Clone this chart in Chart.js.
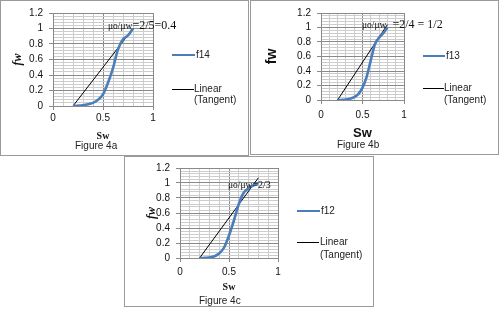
<!DOCTYPE html>
<html><head><meta charset="utf-8">
<script src="https://cdn.jsdelivr.net/npm/chart.js@4"></script>
<style>
html,body{margin:0;padding:0;background:#fff}
body{width:500px;height:309px;position:relative;overflow:hidden;font-family:"Liberation Sans",Arial,sans-serif;color:#222}
canvas{position:absolute}
.box{position:absolute;border:1px solid #9a9a9a;box-sizing:border-box}
.t{position:absolute;white-space:nowrap}
.ln{position:absolute}
</style></head><body>
<script>
// ---------- data ----------
const categoriesSw = [0.2, 0.3, 0.4, 0.45, 0.5, 0.55, 0.6, 0.65, 0.7, 0.75, 0.8];
const f14 = [0, 0.01, 0.04, 0.08, 0.15, 0.30, 0.49, 0.73, 0.86, 0.91, 1.0];
const f13 = [0, 0.005, 0.04, 0.08, 0.17, 0.32, 0.55, 0.77, 0.86, 0.92, 1.0];
const f12 = [0, 0.005, 0.06, 0.14, 0.30, 0.50, 0.72, 0.87, 0.93, 0.97, 1.0];
const tangentSw = [0.2, 0.8];
const tangent4a = [0, 1.0];
const tangent4b = [0, 1.04];
const tangent4c = [0, 1.07];
const xTickLabels = [0, 0.5, 1];
const yTickLabels = [0, 0.2, 0.4, 0.6, 0.8, 1, 1.2];
const seriesNames = ['f14', 'f13', 'f12'];
const tangentLegend = ['Linear', '(Tangent)'];
const viscosityNotes = [['μo/μw', '=2/5=0.4'], ['μo/μw', '  =2/4 = 1/2'], ['μo/μw', '=2/3']];
const captions = ['Figure 4a', 'Figure 4b', 'Figure 4c'];
const xTitleText = 'Sw';
const yTitleText = 'fw';

// ---------- layout / style ----------
const serif = '"Liberation Serif", "Times New Roman", serif';
const sans = '"Liberation Sans", Arial, sans-serif';
const panels = [
  {box:[0,0,249,156], area:[53,153,13,106], yTitleX:18, xTitleY:136, xTickPad:2,
   yFont:{family:serif,size:12,weight:'bold',style:'italic'}, xFont:{family:serif,size:10,weight:'bold'},
   caption:[96,146], legend:{lx:172,lw:23,y1:55,y2:89,y3:100,tx:196,tx2:194}, note:{x:108,y:24,s1:9.5,s2:12}},
  {box:[250,0,249,155], area:[321,404,13,100], yTitleX:272, xTitleY:133, xTickPad:5,
   yFont:{family:sans,size:14,weight:'bold'}, xFont:{family:sans,size:13,weight:'bold'},
   caption:[358,145], legend:{lx:423,lw:22,y1:56,y2:88,y3:100,tx:446,tx2:444}, note:{x:362,y:23,s1:9.5,s2:12}},
  {box:[124,156,250,151], area:[180,278,167,258], yTitleX:152, xTitleY:287.5, xTickPad:4,
   yFont:{family:serif,size:12,weight:'bold',style:'italic'}, xFont:{family:serif,size:10,weight:'bold'},
   caption:[220,300.5], legend:{lx:297,lw:23,y1:211,y2:242,y3:255,tx:321,tx2:320}, note:{x:228,y:183,s1:9.5,s2:10}}
];
const seriesData = [f14, f13, f12];
const tangents = [tangent4a, tangent4b, tangent4c];
const BLUE = '#4A7EBB';
const MAJOR = '#8a8a8a', MINOR = '#cdcdcd';

function near(v, arr){ return arr.some(a => Math.abs(a - v) < 1e-6); }
function fmt(v){ return String(+v.toFixed(1)); }

function addText(txt, x, y, css){
  const d = document.createElement('div');
  d.className = 't'; d.textContent = txt;
  d.style.cssText += css;
  d.style.left = x + 'px'; d.style.top = y + 'px';
  document.body.appendChild(d); return d;
}

panels.forEach((p, k) => {
  const [bx,by,bw,bh] = p.box;
  const [al,ar,at,ab] = p.area;
  const cv = document.createElement('canvas');
  cv.width = bw; cv.height = bh;
  cv.style.left = bx + 'px'; cv.style.top = by + 'px';
  cv.style.width = bw + 'px'; cv.style.height = bh + 'px';
  document.body.appendChild(cv);
  const box = document.createElement('div');
  box.className = 'box';
  box.style.left = bx+'px'; box.style.top = by+'px'; box.style.width = bw+'px'; box.style.height = bh+'px';
  document.body.appendChild(box);

  const yLH = p.yFont.size * 1.2;
  const pl = p.yTitleX - bx - yLH/2;
  const yw = (al - bx) - pl;
  const pr = bw - (ar - bx);
  const pt = at - by;
  const xLH = p.xFont.size * 1.2;
  const xBottom = p.xTitleY - by + xLH/2;
  const xh = xBottom - (ab - by);
  const pb = bh - xBottom;

  new Chart(cv, {
    type: 'scatter',
    data: { datasets: [
      { label: seriesNames[k], data: categoriesSw.map((x,i)=>({x, y: seriesData[k][i]})),
        showLine: true, borderColor: BLUE, backgroundColor: BLUE, borderWidth: 2.6, pointRadius: 0,
        cubicInterpolationMode: 'monotone', fill: false },
      { label: tangentLegend.join(' '), data: tangentSw.map((x,i)=>({x, y: tangents[k][i]})),
        showLine: true, borderColor: '#000', backgroundColor: '#000', borderWidth: 1, pointRadius: 0, fill: false }
    ]},
    options: {
      responsive: false, animation: false, devicePixelRatio: 1,
      layout: { padding: { left: pl, right: pr, top: pt, bottom: pb } },
      plugins: { legend: { display: false }, tooltip: { enabled: false } },
      scales: {
        x: {
          type: 'linear', min: 0, max: 1,
          afterBuildTicks: s => { const t=[]; for (let i=0;i<=10;i++) t.push({value: i/10}); s.ticks = t; },
          afterFit: s => { s.height = xh; },
          ticks: { autoSkip: false, maxRotation: 0, padding: p.xTickPad, color: '#111',
                   font: { family: sans, size: 10 },
                   callback: v => near(v, xTickLabels) ? fmt(v) : '' },
          grid: { tickLength: 4,
                  color: c => near(c.tick.value, xTickLabels) ? MAJOR : MINOR,
                  tickColor: c => near(c.tick.value, xTickLabels) ? MAJOR : 'rgba(0,0,0,0)' },
          border: { color: MAJOR },
          title: { display: true, text: xTitleText, font: p.xFont, padding: 0, color: '#111' }
        },
        y: {
          type: 'linear', min: 0, max: 1.2,
          afterBuildTicks: s => { const t=[]; for (let i=0;i<=30;i++) t.push({value: i*0.04}); s.ticks = t; },
          afterFit: s => { s.width = yw; },
          ticks: { autoSkip: false, padding: 6, color: '#111',
                   font: { family: sans, size: 10 },
                   callback: v => near(v, yTickLabels) ? fmt(v) : '' },
          grid: { tickLength: 4,
                  color: c => near(c.tick.value, yTickLabels) ? MAJOR : MINOR,
                  tickColor: c => near(c.tick.value, yTickLabels) ? MAJOR : 'rgba(0,0,0,0)' },
          border: { color: MAJOR },
          title: { display: true, text: yTitleText, font: p.yFont, padding: 0, color: '#111' }
        }
      }
    }
  });

  // caption
  const cap = addText(captions[k], 0, 0, 'font:10px '+sans+';line-height:12px;color:#222;');
  cap.style.left = (p.caption[0] - cap.offsetWidth/2) + 'px';
  cap.style.top = (p.caption[1] - 6) + 'px';

  // legend
  const L = p.legend;
  const l1 = document.createElement('div'); l1.className='ln';
  l1.style.cssText += 'left:'+L.lx+'px;top:'+(L.y1-1.3)+'px;width:'+L.lw+'px;height:2.6px;background:'+BLUE+';';
  document.body.appendChild(l1);
  addText(seriesNames[k], L.tx, L.y1-6, 'font:10px '+sans+';line-height:12px;color:#222;');
  const l2 = document.createElement('div'); l2.className='ln';
  l2.style.cssText += 'left:'+L.lx+'px;top:'+(L.y2-0.5)+'px;width:'+(L.lw-1)+'px;height:1px;background:#000;';
  document.body.appendChild(l2);
  addText(tangentLegend[0], L.tx2, L.y2-6, 'font:10px '+sans+';line-height:12px;color:#222;');
  addText(tangentLegend[1], L.tx2, L.y3-6, 'font:10px '+sans+';line-height:12px;color:#222;');

  // viscosity ratio note
  const N = p.note;
  const nd = document.createElement('div'); nd.className='t';
  nd.style.cssText += 'left:'+N.x+'px;top:'+(N.y-7)+'px;line-height:14px;font-family:'+serif+';color:#111;white-space:pre;';
  const s1 = document.createElement('span'); s1.style.fontSize = N.s1+'px'; s1.textContent = viscosityNotes[k][0];
  const s2 = document.createElement('span'); s2.style.fontSize = N.s2+'px'; s2.textContent = viscosityNotes[k][1];
  nd.appendChild(s1); nd.appendChild(s2);
  document.body.appendChild(nd);
});
</script>
</body></html>
